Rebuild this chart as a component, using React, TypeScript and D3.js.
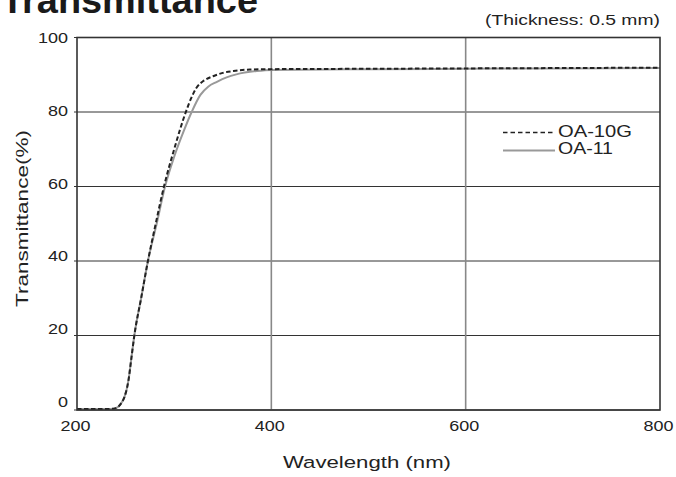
import React from "react";
import * as d3 from "d3";

const xTicks = [200, 400, 600, 800];
const yTicks = [0, 20, 40, 60, 80, 100];

const seriesNames = ["OA-10G", "OA-11"];

const oa10gWave = [200, 235, 240, 243, 246, 249, 253, 256, 259, 266, 273, 281, 289.5, 300, 312, 318, 323, 330, 340, 350, 361, 378, 400, 500, 600, 700, 800];
const oa10gValue = [0.3, 0.3, 0.5, 1, 2, 3.6, 8, 14, 20, 30, 40, 50, 60, 70, 80, 84, 86.5, 88.3, 89.6, 90.5, 91, 91.4, 91.5, 91.6, 91.7, 91.8, 91.9];

const oa11Wave = [200, 235, 240, 243, 246, 249, 253, 256, 259, 266, 273, 282, 290.6, 300, 310, 318, 327, 335, 344, 354, 364, 385, 400, 500, 600, 700, 800];
const oa11Value = [0.3, 0.3, 0.5, 1, 2, 3.6, 8, 14, 20, 30, 40, 50, 60, 68, 75, 80, 84.6, 86.8, 88.1, 89.3, 90.1, 91, 91.3, 91.5, 91.6, 91.7, 91.8];

const W = 676;
const H = 477;
const L = 77, R = 660, T = 37.5, B = 410;
const FONT = "'Liberation Sans', Arial, Helvetica, sans-serif";
const TXT = "#222";
const DIGIT_W = 10;

export default function App() {
  const x = d3.scaleLinear().domain([200, 800]).range([L, R]);
  const y = d3.scaleLinear().domain([0, 100]).range([B, T]);
  const yLab = d3.scaleLinear().domain([0, 100]).range([401.5, 37.5]);

  const line = d3
    .line<[number, number]>()
    .x((d) => x(d[0]))
    .y((d) => y(d[1]))
    .curve(d3.curveMonotoneX);

  const d10 = line(oa10gWave.map((w, i) => [w, oa10gValue[i]] as [number, number])) || "";
  const d11 = line(oa11Wave.map((w, i) => [w, oa11Value[i]] as [number, number])) || "";

  const stretch = { lengthAdjust: "spacingAndGlyphs" as const };

  return (
    <svg
      width={W}
      height={H}
      style={{ position: "absolute", left: 0, top: 0, background: "#fff" }}
      fontFamily={FONT}
    >
      <rect x={0} y={0} width={W} height={H} fill="#fff" />
      <text x={1} y={13} fontSize={37} fontWeight="bold" fill="#1a1a1a" textLength={257} {...stretch}>
        Transmittance
      </text>
      <text x={485} y={25} fontSize={15} fill={TXT} textLength={175} {...stretch}>
        (Thickness: 0.5 mm)
      </text>

      {/* horizontal grid */}
      {yTicks.map((t) => (
        <line key={"h" + t} x1={L - 3} x2={R} y1={y(t)} y2={y(t)} stroke="#333" strokeWidth={1} />
      ))}
      {/* vertical grid */}
      {xTicks.slice(1, -1).map((t) => (
        <line key={"v" + t} x1={x(t)} x2={x(t)} y1={T} y2={B} stroke="#888" strokeWidth={1.6} />
      ))}

      {/* curves */}
      <path d={d11} fill="none" stroke="#999" strokeWidth={2} />
      <path d={d10} fill="none" stroke="#222" strokeWidth={2} strokeDasharray="4.5,2.5" />

      {/* frame */}
      <rect x={L} y={T} width={R - L} height={B - T} fill="none" stroke="#333" strokeWidth={1.6} />

      {/* y tick labels */}
      {yTicks.map((t) => {
        const s = String(t);
        const w = s.length * DIGIT_W;
        return (
          <text key={"yl" + t} x={68 - w} y={yLab(t)} dy="0.36em" fontSize={15.5} fill={TXT} textLength={w} {...stretch}>
            {s}
          </text>
        );
      })}
      {/* x tick labels */}
      {xTicks.map((t) => {
        const s = String(t);
        const w = s.length * DIGIT_W;
        return (
          <text key={"xl" + t} x={x(t) - 1.5 - w / 2} y={431} fontSize={15.5} fill={TXT} textLength={w} {...stretch}>
            {s}
          </text>
        );
      })}

      <text x={283} y={468} fontSize={16.3} fill={TXT} textLength={168} {...stretch}>
        Wavelength (nm)
      </text>
      <text
        transform={`translate(28, ${307}) rotate(-90)`}
        fontSize={16.3}
        fill={TXT}
        textLength={177}
        {...stretch}
      >
        Transmittance(%)
      </text>

      {/* legend */}
      <line x1={503} x2={555} y1={132.5} y2={132.5} stroke="#222" strokeWidth={1.5} strokeDasharray="4.5,3" />
      <text x={558} y={136.7} fontSize={16.3} fill={TXT} textLength={74} {...stretch}>
        {seriesNames[0]}
      </text>
      <line x1={503} x2={555} y1={150.5} y2={150.5} stroke="#999" strokeWidth={2} />
      <text x={558} y={154} fontSize={16.3} fill={TXT} textLength={55} {...stretch}>
        {seriesNames[1]}
      </text>
    </svg>
  );
}
